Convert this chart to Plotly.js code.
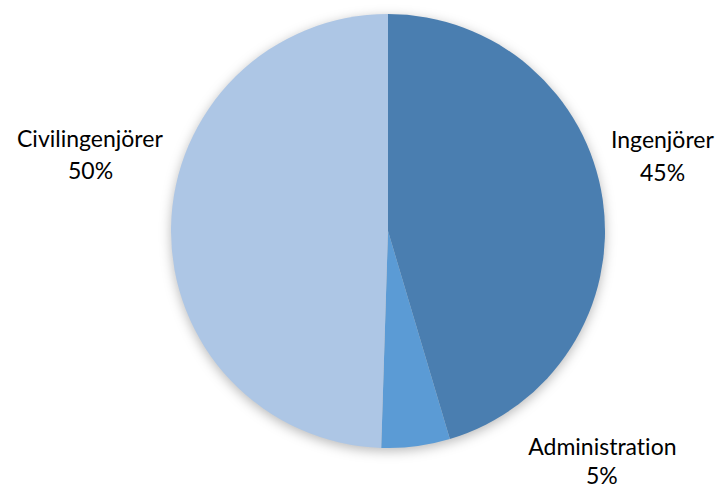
<!DOCTYPE html>
<html>
<head>
<meta charset="utf-8">
<script src="https://cdn.plot.ly/plotly-3.0.1.min.js"></script>
<style>
html,body{margin:0;padding:0;background:#fff;}
#chart{width:725px;height:490px;}
#chart .pielayer .trace{filter:drop-shadow(0px 3px 6px rgba(0,0,0,0.28));}
#chart text{font-variant-ligatures:none;font-feature-settings:"liga" 0, "clig" 0;}
</style>
</head>
<body>
<div id="chart"></div>
<script>
const categories = ["Ingenjörer", "Administration", "Civilingenjörer"];
const values = [45.4, 5.1, 49.5];
const colors = ["#4A7EB0", "#5B9BD5", "#ADC6E5"];

// label anchor positions (pixel centres) for each category: [x, yName, yPct]
const labelPos = [[662, 139, 172], [602, 446, 475], [90, 138, 170]];

const W = 725, H = 490;
const FONT = {family: "Lato, 'Noto Sans', sans-serif", size: 23, color: "#000"};
const total = values.reduce((a, b) => a + b, 0);
const annotations = [];
categories.forEach((c, i) => {
  const pct = Math.round(values[i] / total * 100) + "%";
  const p = labelPos[i];
  annotations.push({text: c, x: p[0] / W, y: 1 - p[1] / H, xref: "paper", yref: "paper",
    showarrow: false, xanchor: "center", yanchor: "middle", borderpad: 0, font: FONT});
  annotations.push({text: pct, x: p[0] / W, y: 1 - p[2] / H, xref: "paper", yref: "paper",
    showarrow: false, xanchor: "center", yanchor: "middle", borderpad: 0, font: FONT});
});

const trace = {
  type: "pie",
  labels: categories,
  values: values,
  sort: false,
  direction: "clockwise",
  rotation: 0,
  marker: {colors: colors, line: {color: "rgba(0,0,0,0)", width: 0}},
  textinfo: "none",
  hoverinfo: "label+percent",
  domain: {x: [171 / W, 605 / W], y: [(H - 448) / H, (H - 14) / H]}
};

const layout = {
  width: W, height: H,
  margin: {l: 0, r: 0, t: 0, b: 0},
  showlegend: false,
  paper_bgcolor: "#fff",
  annotations: annotations
};

Plotly.newPlot("chart", [trace], layout, {displayModeBar: false, staticPlot: true});
</script>
</body>
</html>
